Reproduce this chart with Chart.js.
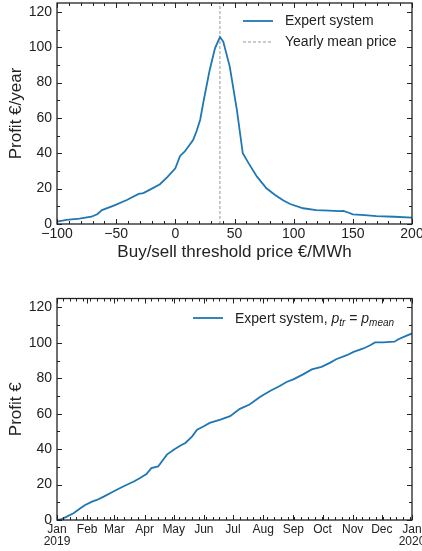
<!DOCTYPE html>
<html lang="en">
<head>
<meta charset="UTF-8">
<title>Expert system profit</title>
<script src="https://cdn.jsdelivr.net/npm/chart.js@4.4.0/dist/chart.umd.min.js"></script>
<style>
  body { margin: 0; background: #fff; }
  canvas { position: absolute; left: 0; }
</style>
</head>
<body>
<canvas id="sweep" width="422" height="275" style="top:0"></canvas>
<canvas id="year" width="422" height="276" style="top:275px"></canvas>
<script>
// top panel: yearly profit vs buy/sell threshold price
const thresholdPrices = [-100, -92, -81, -71, -66, -62, -52, -41, -31, -27, -21, -13, -7, 0, 4, 8, 15, 18, 21, 24,
  29, 33.5, 37.7, 40.5, 46, 52, 57, 62, 69, 77, 84, 91, 97, 108, 119, 130, 138, 142, 146, 150, 160, 170, 185, 200];
const profitPerYear = [1.3, 2.3, 3.0, 4.1, 5.5, 7.9, 10.4, 13.6, 17, 17.5, 19.6, 22.5, 26.4, 31.5, 38.5, 41, 47.5, 52.6, 59, 70,
  87, 99.4, 105.7, 103.2, 89, 64.5, 40, 34.3, 26.8, 20.2, 16.6, 13.4, 11.3, 8.9, 7.9, 7.6, 7.3, 7.4, 6.5, 5.5, 5.0, 4.5, 4.1, 3.6];
const yearlyMeanPrice = 37.67;
const priceTicks = [-100, -50, 0, 50, 100, 150, 200];
const profitTicks = [0, 20, 40, 60, 80, 100, 120];

// bottom panel: cumulative profit over 2019 (day of year)
const dayOfYear = [0, 4, 10, 17, 24, 29, 36, 41, 48, 58, 68, 79, 85, 92, 97, 104, 113, 120, 127, 132, 139, 144, 151, 157,
  168, 178, 188, 198, 209, 219, 229, 236, 243, 253, 262, 272, 281, 287, 298, 305, 315, 322, 327, 335, 347, 351, 359, 365];
const cumulativeProfit = [0, 0.3, 1.9, 3.8, 6.6, 8.5, 10.4, 11.3, 13.2, 16.1, 18.9, 21.7, 23.6, 25.9, 29.3, 30.2, 36.9, 39.7,
  42, 43.5, 47.2, 51, 52.9, 54.8, 56.7, 58.6, 62.7, 65.2, 69.5, 72.8, 75.6, 77.9, 79.4, 82.2, 85, 86.4, 88.8, 90.7, 93, 94.9,
  96.8, 98.6, 100.2, 100.2, 100.6, 102, 103.9, 105.3];
const monthStarts = [0, 31, 59, 90, 120, 151, 181, 212, 243, 273, 304, 334, 365];
const monthLabels = [['Jan', '2019'], 'Feb', 'Mar', 'Apr', 'May', 'Jun', 'Jul', 'Aug', 'Sep', 'Oct', 'Nov', 'Dec', ['Jan', '2020']];

const FONT = "'Liberation Sans', Arial, sans-serif";
const BLUE = '#1f77b4';
const INK = '#222';

function range(a, b, step) {
  const out = [];
  for (let v = a; v <= b + 1e-9; v += step) out.push(v);
  return out;
}

// inward ticks on all four sides + frame, like the matplotlib style
function frameTicks(xMajor, xMinor, yMajor, yMinor) {
  return {
    id: 'frameTicks',
    afterDatasetsDraw(chart) {
      const { ctx, chartArea: a, scales: { x, y } } = chart;
      ctx.save();
      ctx.strokeStyle = INK;
      ctx.lineWidth = 1;
      ctx.beginPath();
      const xt = (vals, len) => vals.forEach(v => {
        const p = Math.round(x.getPixelForValue(v)) + 0.5;
        ctx.moveTo(p, a.bottom); ctx.lineTo(p, a.bottom - len);
        ctx.moveTo(p, a.top); ctx.lineTo(p, a.top + len);
      });
      const yt = (vals, len) => vals.forEach(v => {
        const p = Math.round(y.getPixelForValue(v)) + 0.5;
        ctx.moveTo(a.left, p); ctx.lineTo(a.left + len, p);
        ctx.moveTo(a.right, p); ctx.lineTo(a.right - len, p);
      });
      xt(xMajor, 5); xt(xMinor, 3);
      yt(yMajor, 5); yt(yMinor, 3);
      ctx.stroke();
      ctx.lineWidth = 1.3;
      ctx.strokeRect(a.left, a.top, a.right - a.left, a.bottom - a.top);
      ctx.restore();
    }
  };
}

function fixedAxis(size, horizontal) {
  return scale => {
    if (horizontal) scale.height = size; else scale.width = size;
    scale.paddingLeft = 0; scale.paddingRight = 0;
    scale.paddingTop = 0; scale.paddingBottom = 0;
  };
}

const sweepLegend = {
  id: 'sweepLegend',
  afterDraw(chart) {
    const ctx = chart.ctx;
    ctx.save();
    ctx.lineWidth = 1.8;
    ctx.strokeStyle = BLUE;
    ctx.beginPath(); ctx.moveTo(243, 21); ctx.lineTo(273, 21); ctx.stroke();
    ctx.lineWidth = 1;
    ctx.strokeStyle = '#999';
    ctx.setLineDash([3, 2]);
    ctx.beginPath(); ctx.moveTo(243, 42); ctx.lineTo(273, 42); ctx.stroke();
    ctx.setLineDash([]);
    ctx.fillStyle = INK;
    ctx.font = '14px ' + FONT;
    ctx.textBaseline = 'middle';
    ctx.fillText('Expert system', 285, 21);
    ctx.fillText('Yearly mean price', 285, 42);
    ctx.restore();
  }
};

const yearLegend = {
  id: 'yearLegend',
  afterDraw(chart) {
    const ctx = chart.ctx;
    const y = 43;
    ctx.save();
    ctx.lineWidth = 1.8;
    ctx.strokeStyle = BLUE;
    ctx.beginPath(); ctx.moveTo(193, y); ctx.lineTo(223, y); ctx.stroke();
    ctx.fillStyle = INK;
    ctx.textBaseline = 'alphabetic';
    const base = y + 5;
    let x = 235;
    const put = (text, font, dy) => {
      ctx.font = font;
      ctx.fillText(text, x, base + dy);
      x += ctx.measureText(text).width;
    };
    put('Expert system, ', '14px ' + FONT, 0);
    put('p', 'italic 14px ' + FONT, 0);
    put('tr', 'italic 10px ' + FONT, 3);
    put(' = ', '14px ' + FONT, 0);
    put('p', 'italic 14px ' + FONT, 0);
    put('mean', 'italic 10px ' + FONT, 3);
    ctx.restore();
  }
};

new Chart(document.getElementById('sweep'), {
  type: 'line',
  data: {
    datasets: [{
      data: thresholdPrices.map((p, i) => ({ x: p, y: profitPerYear[i] })),
      borderColor: BLUE,
      borderWidth: 1.8,
      pointRadius: 0,
      tension: 0
    }, {
      data: [{ x: yearlyMeanPrice, y: 0 }, { x: yearlyMeanPrice, y: 125 }],
      borderColor: '#999',
      borderWidth: 1,
      borderDash: [3, 2],
      pointRadius: 0
    }]
  },
  options: {
    responsive: false,
    animation: false,
    layout: { padding: { top: 3, right: 10, left: 0, bottom: 0 } },
    plugins: { legend: { display: false }, tooltip: { enabled: false } },
    scales: {
      x: {
        type: 'linear', min: -100, max: 200,
        afterBuildTicks: s => { s.ticks = priceTicks.map(v => ({ value: v })); },
        afterFit: fixedAxis(51, true),
        grid: { display: false, drawTicks: false },
        border: { display: false },
        ticks: {
          padding: 2, color: INK, maxRotation: 0, autoSkip: false,
          font: { family: FONT, size: 14 },
          callback: v => v < 0 ? '\u2212' + Math.abs(v) : String(v)
        },
        title: {
          display: true, text: 'Buy/sell threshold price €/MWh', color: INK,
          font: { family: FONT, size: 17 }, padding: { top: 0, bottom: 12 }
        }
      },
      y: {
        min: 0, max: 125,
        afterBuildTicks: s => { s.ticks = profitTicks.map(v => ({ value: v })); },
        afterFit: fixedAxis(57, false),
        grid: { display: false, drawTicks: false },
        border: { display: false },
        ticks: { padding: 5, color: INK, font: { family: FONT, size: 14 } },
        title: {
          display: true, text: 'Profit €/year', color: INK,
          font: { family: FONT, size: 17 }, padding: { top: 6, bottom: 0 }
        }
      }
    }
  },
  plugins: [frameTicks(priceTicks, range(-100, 200, 10), profitTicks, range(0, 125, 10)), sweepLegend]
});

new Chart(document.getElementById('year'), {
  type: 'line',
  data: {
    datasets: [{
      data: dayOfYear.map((d, i) => ({ x: d, y: cumulativeProfit[i] })),
      borderColor: BLUE,
      borderWidth: 1.8,
      pointRadius: 0,
      tension: 0
    }]
  },
  options: {
    responsive: false,
    animation: false,
    layout: { padding: { top: 23.5, right: 10, left: 0, bottom: 0 } },
    plugins: { legend: { display: false }, tooltip: { enabled: false } },
    scales: {
      x: {
        type: 'linear', min: 0, max: 365,
        afterBuildTicks: s => { s.ticks = monthStarts.map(v => ({ value: v })); },
        afterFit: fixedAxis(31, true),
        grid: { display: false, drawTicks: false },
        border: { display: false },
        ticks: {
          padding: 3, color: INK, maxRotation: 0, autoSkip: false,
          font: { family: FONT, size: 12, lineHeight: 1.05 },
          callback: (v, i) => monthLabels[i]
        }
      },
      y: {
        min: 0, max: 125,
        afterBuildTicks: s => { s.ticks = profitTicks.map(v => ({ value: v })); },
        afterFit: fixedAxis(57, false),
        grid: { display: false, drawTicks: false },
        border: { display: false },
        ticks: { padding: 5, color: INK, font: { family: FONT, size: 14 } },
        title: {
          display: true, text: 'Profit €', color: INK,
          font: { family: FONT, size: 17 }, padding: { top: 6, bottom: 0 }
        }
      }
    }
  },
  plugins: [frameTicks(monthStarts, range(6, 365, 7), profitTicks, range(0, 125, 10)), yearLegend]
});
</script>
</body>
</html>
